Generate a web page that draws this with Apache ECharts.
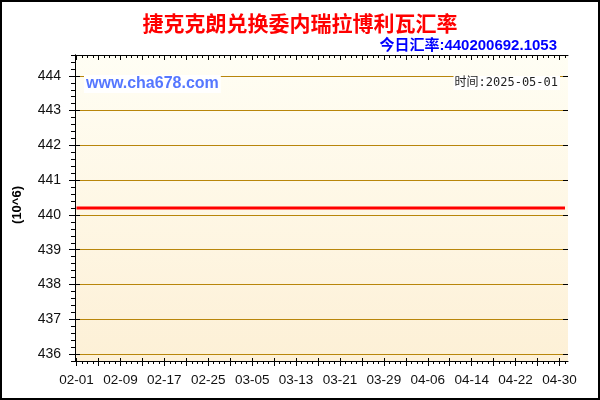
<!DOCTYPE html>
<html>
<head>
<meta charset="utf-8">
<script src="https://cdn.jsdelivr.net/npm/echarts@6/dist/echarts.min.js"></script>
<style>
html,body{margin:0;padding:0;background:#fff;}
#chart{width:600px;height:400px;}
</style>
</head>
<body>
<div id="chart"></div>
<script>
// ---- data ----
const titleText = '捷克克朗兑换委内瑞拉博利瓦汇率';
const todayRateText = '今日汇率:440200692.1053';
const timeText = '时间:2025-05-01';
const watermarkText = 'www.cha678.com';
const unitText = '(10^6)';

const dates = [
  '02-01','02-02','02-03','02-04','02-05','02-06','02-07','02-08','02-09','02-10',
  '02-11','02-12','02-13','02-14','02-15','02-16','02-17','02-18','02-19','02-20',
  '02-21','02-22','02-23','02-24','02-25','02-26','02-27','02-28',
  '03-01','03-02','03-03','03-04','03-05','03-06','03-07','03-08','03-09','03-10',
  '03-11','03-12','03-13','03-14','03-15','03-16','03-17','03-18','03-19','03-20',
  '03-21','03-22','03-23','03-24','03-25','03-26','03-27','03-28','03-29','03-30','03-31',
  '04-01','04-02','04-03','04-04','04-05','04-06','04-07','04-08','04-09','04-10',
  '04-11','04-12','04-13','04-14','04-15','04-16','04-17','04-18','04-19','04-20',
  '04-21','04-22','04-23','04-24','04-25','04-26','04-27','04-28','04-29','04-30',
  '05-01'
];

// rate in units of 10^6
const rates = [
  440.2007,440.2007,440.2007,440.2007,440.2007,440.2007,440.2007,440.2007,440.2007,440.2007,
  440.2007,440.2007,440.2007,440.2007,440.2007,440.2007,440.2007,440.2007,440.2007,440.2007,
  440.2007,440.2007,440.2007,440.2007,440.2007,440.2007,440.2007,440.2007,
  440.2007,440.2007,440.2007,440.2007,440.2007,440.2007,440.2007,440.2007,440.2007,440.2007,
  440.2007,440.2007,440.2007,440.2007,440.2007,440.2007,440.2007,440.2007,440.2007,440.2007,
  440.2007,440.2007,440.2007,440.2007,440.2007,440.2007,440.2007,440.2007,440.2007,440.2007,440.2007,
  440.2007,440.2007,440.2007,440.2007,440.2007,440.2007,440.2007,440.2007,440.2007,440.2007,
  440.2007,440.2007,440.2007,440.2007,440.2007,440.2007,440.2007,440.2007,440.2007,440.2007,
  440.2007,440.2007,440.2007,440.2007,440.2007,440.2007,440.2007,440.2007,440.2007,440.2007,
  440.2007
];

const yMin = 435.8, yMax = 444.6;      // plotted range
const yTickMin = 436, yTickMax = 444;  // labelled range
const yLabelStep = 1, yMinorStep = 0.2;
const xLabelEvery = 8, xMajorEvery = 4;

// ---- chart ----
const chart = echarts.init(document.getElementById('chart'), null, {renderer: 'canvas'});
const black = '#000';
const gridColor = '#B8860B';
const font = 'Arial, "Liberation Sans", sans-serif';
const plotTop = 55, plotBottom = 39;
const pxPerUnit = (400 - plotTop - plotBottom) / (yMax - yMin);

const hidden = {show: false};
const option = {
  animation: false,
  backgroundColor: '#fff',
  title: [
    {text: titleText, left: 'center', top: 8,
     textStyle: {color: '#ff0000', fontSize: 21, fontWeight: 'bold', fontFamily: '"Noto Sans CJK SC", sans-serif'}},
    {text: todayRateText, right: 38, top: 33,
     textStyle: {color: '#0000ff', fontSize: 15, fontWeight: 'bold', fontFamily: 'Arial, "Liberation Sans", "Noto Sans CJK SC", sans-serif'}}
  ],
  grid: [
    // frame grid
    {left: 75, right: 32, top: plotTop, bottom: plotBottom, show: true, borderWidth: 0,
     backgroundColor: {type: 'linear', x: 0, y: 0, x2: 0, y2: 1,
       colorStops: [{offset: 0, color: '#FFFEF4'}, {offset: 1, color: '#FDF0D6'}]}},
    // data grid
    {left: 76.5, right: 35, top: plotTop, bottom: plotBottom},
    // labelled gridline grid
    {left: 75, right: 32,
     top: plotTop + (yMax - yTickMax) * pxPerUnit,
     bottom: plotBottom + (yTickMin - yMin) * pxPerUnit}
  ],
  xAxis: [
    {gridIndex: 0, type: 'value', min: 0, max: 1, position: 'bottom',
     axisLine: {show: true, lineStyle: {color: black, width: 1}}, axisTick: hidden, axisLabel: hidden, splitLine: hidden},
    {gridIndex: 0, type: 'value', min: 0, max: 1, position: 'top',
     axisLine: {show: true, lineStyle: {color: black, width: 1}}, axisTick: hidden, axisLabel: hidden, splitLine: hidden},
    {gridIndex: 1, type: 'category', data: dates, boundaryGap: false, position: 'bottom',
     axisLine: {show: false},
     axisTick: {show: true, interval: 0, length: 3, inside: false, lineStyle: {color: black}},
     axisLabel: {show: true, interval: xLabelEvery - 1, color: '#111', fontSize: 13.5, fontFamily: font, margin: 12},
     splitLine: hidden},
    {gridIndex: 1, type: 'category', data: dates, boundaryGap: false, position: 'bottom',
     axisLine: {show: false},
     axisTick: {show: true, interval: xMajorEvery - 1, length: 5, inside: false, lineStyle: {color: black}},
     axisLabel: hidden, splitLine: hidden},
    {gridIndex: 1, type: 'category', data: dates, boundaryGap: false, position: 'bottom',
     axisLine: {show: false},
     axisTick: {show: true, interval: xMajorEvery - 1, length: 3, inside: true, lineStyle: {color: black}},
     axisLabel: hidden, splitLine: hidden},
    {gridIndex: 1, type: 'category', data: dates, boundaryGap: false, position: 'top',
     axisLine: {show: false},
     axisTick: {show: true, interval: 0, length: 3, inside: true, lineStyle: {color: black}},
     axisLabel: hidden, splitLine: hidden},
    {gridIndex: 1, type: 'category', data: dates, boundaryGap: false, position: 'top',
     axisLine: {show: false},
     axisTick: {show: true, interval: xMajorEvery - 1, length: 5, inside: true, lineStyle: {color: black}},
     axisLabel: hidden, splitLine: hidden},
    {gridIndex: 2, type: 'value', min: 0, max: 1, show: false}
  ],
  yAxis: [
    {gridIndex: 0, type: 'value', min: yMin, max: yMax, interval: yMinorStep, position: 'left',
     axisLine: {show: true, lineStyle: {color: black, width: 1}},
     axisTick: {show: true, length: 4, inside: false, lineStyle: {color: black}},
     axisLabel: hidden, splitLine: hidden},
    {gridIndex: 0, type: 'value', min: yMin, max: yMax, interval: yMinorStep, position: 'right',
     axisLine: {show: true, lineStyle: {color: black, width: 1}},
     axisTick: {show: true, length: 3, inside: true, lineStyle: {color: black}},
     axisLabel: hidden, splitLine: hidden},
    {gridIndex: 1, type: 'value', min: yMin, max: yMax, show: false, splitLine: hidden},
    {gridIndex: 2, type: 'value', min: yTickMin, max: yTickMax, interval: yLabelStep, position: 'left',
     axisLine: {show: false},
     axisTick: {show: true, length: 6, inside: false, lineStyle: {color: black}},
     axisLabel: {show: true, color: '#111', fontSize: 14, fontFamily: font, margin: 14},
     splitLine: {show: true, lineStyle: {color: gridColor, width: 1}}},
    {gridIndex: 2, type: 'value', min: yTickMin, max: yTickMax, interval: yLabelStep, position: 'left',
     axisLine: {show: false},
     axisTick: {show: true, length: 5, inside: true, lineStyle: {color: black}},
     axisLabel: hidden, splitLine: hidden},
    {gridIndex: 2, type: 'value', min: yTickMin, max: yTickMax, interval: yLabelStep, position: 'right',
     axisLine: {show: false},
     axisTick: {show: true, length: 5, inside: true, lineStyle: {color: black}},
     axisLabel: hidden, splitLine: hidden}
  ],
  series: [{
    type: 'line', xAxisIndex: 2, yAxisIndex: 2, data: rates,
    showSymbol: false, symbol: 'none', z: 10,
    lineStyle: {color: '#ff0000', width: 3}
  }],
  graphic: [
    {type: 'rect', z: 200, silent: true,
     shape: {x: 1, y: 1, width: 598, height: 398},
     style: {fill: 'none', stroke: '#000', lineWidth: 2}},
    {type: 'text', z: 100, left: 84, top: 75,
     style: {text: watermarkText, fill: '#5577ff', font: 'bold 16px Arial, "Liberation Sans", sans-serif',
       backgroundColor: '#fff', padding: [1, 2, 1, 2]}},
    {type: 'text', z: 100, right: 40, top: 76,
     style: {text: timeText, fill: '#222', font: '12px "DejaVu Sans Mono", "Noto Sans CJK SC", monospace',
       backgroundColor: '#fff', padding: [1, 2, 1, 1]}},
    {type: 'text', z: 100, left: 11, top: 186, rotation: Math.PI / 2,
     style: {text: unitText, fill: '#000', font: 'bold 13px Arial, "Liberation Sans", sans-serif'}}
  ]
};
chart.setOption(option);
</script>
</body>
</html>
